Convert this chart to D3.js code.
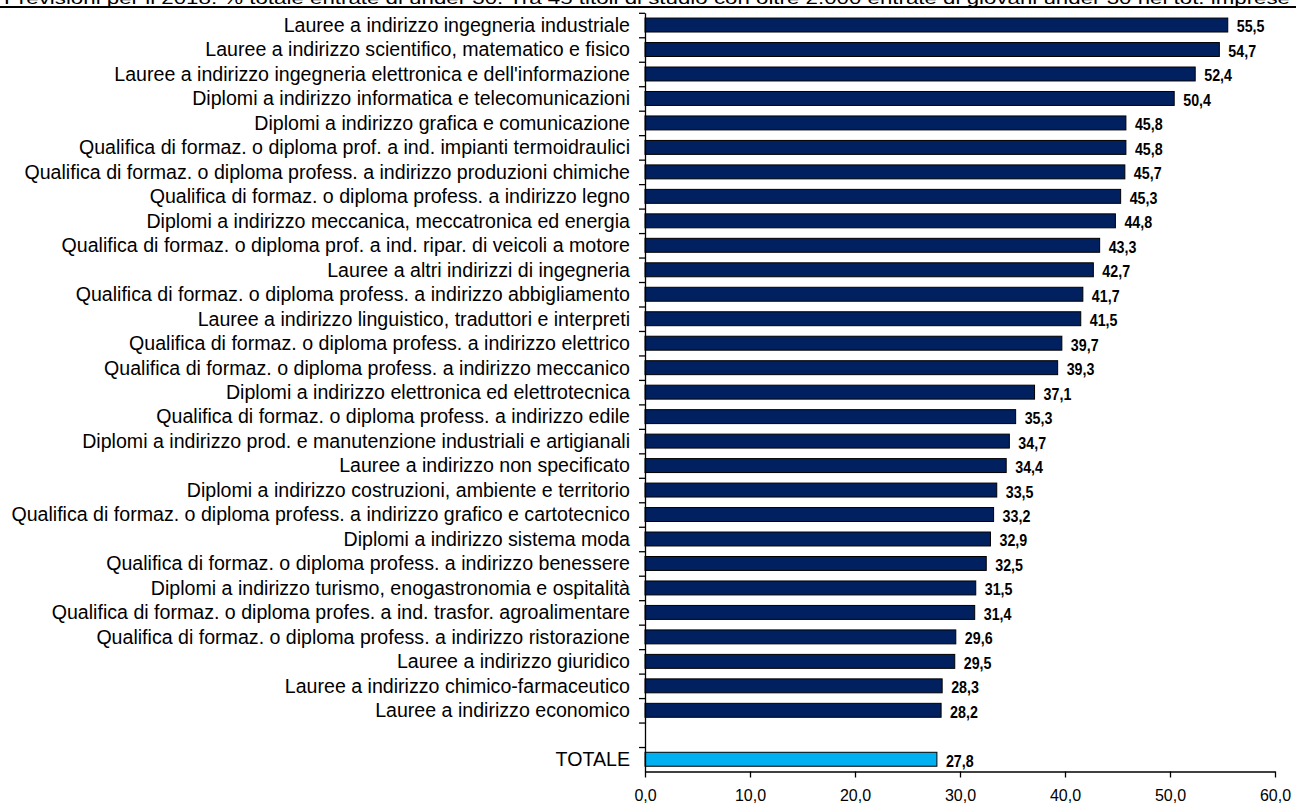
<!DOCTYPE html>
<html><head><meta charset="utf-8">
<script src="https://cdn.jsdelivr.net/npm/d3@7"></script>
<style>
body{margin:0;background:#fff;}
svg{display:block;font-family:"Liberation Sans Narrow","Arial Narrow","Liberation Sans",Arial,sans-serif;}
</style></head>
<body><svg id="c" width="1296" height="806"></svg>
<script>
const titleText = "Previsioni per il 2018: % totale entrate di under 30. Tra 45 titoli di studio con oltre 2.000 entrate di giovani under 30 nel tot. imprese";
const categories = [
"Lauree a indirizzo ingegneria industriale",
"Lauree a indirizzo scientifico, matematico e fisico",
"Lauree a indirizzo ingegneria elettronica e dell'informazione",
"Diplomi a indirizzo informatica e telecomunicazioni",
"Diplomi a indirizzo grafica e comunicazione",
"Qualifica di formaz. o diploma prof. a ind. impianti termoidraulici",
"Qualifica di formaz. o diploma profess. a indirizzo produzioni chimiche",
"Qualifica di formaz. o diploma profess. a indirizzo legno",
"Diplomi a indirizzo meccanica, meccatronica ed energia",
"Qualifica di formaz. o diploma prof. a ind. ripar. di veicoli a motore",
"Lauree a altri indirizzi di ingegneria",
"Qualifica di formaz. o diploma profess. a indirizzo abbigliamento",
"Lauree a indirizzo linguistico, traduttori e interpreti",
"Qualifica di formaz. o diploma profess. a indirizzo elettrico",
"Qualifica di formaz. o diploma profess. a indirizzo meccanico",
"Diplomi a indirizzo elettronica ed elettrotecnica",
"Qualifica di formaz. o diploma profess. a indirizzo edile",
"Diplomi a indirizzo prod. e manutenzione industriali e artigianali",
"Lauree a indirizzo non specificato",
"Diplomi a indirizzo costruzioni, ambiente e territorio",
"Qualifica di formaz. o diploma profess. a indirizzo grafico e cartotecnico",
"Diplomi a indirizzo sistema moda",
"Qualifica di formaz. o diploma profess. a indirizzo benessere",
"Diplomi a indirizzo turismo, enogastronomia e ospitalità",
"Qualifica di formaz. o diploma profes. a ind. trasfor. agroalimentare",
"Qualifica di formaz. o diploma profess. a indirizzo ristorazione",
"Lauree a indirizzo giuridico",
"Lauree a indirizzo chimico-farmaceutico",
"Lauree a indirizzo economico"
];
const values = [55.5,54.7,52.4,50.4,45.8,45.8,45.7,45.3,44.8,43.3,42.7,41.7,41.5,39.7,39.3,37.1,35.3,34.7,34.4,33.5,33.2,32.9,32.5,31.5,31.4,29.6,29.5,28.3,28.2];
const totalLabel = "TOTALE";
const totalValue = 27.8;
const xTicks = [0,10,20,30,40,50,60];

const rows = categories.map((c,i)=>({cat:c, val:values[i], total:false}));
rows.push({cat:"__gap__", val:null, total:false});
rows.push({cat:totalLabel, val:totalValue, total:true});

const svg = d3.select("#c");
const pLeft = 645, pRight = 1275, pTop = 12.8, pBottom = 771.5;

const x = d3.scaleLinear().domain([0,60]).range([pLeft,pRight]);
const y = d3.scaleBand().domain(rows.map(r=>r.cat)).range([pTop,pBottom]).paddingInner(0.43).paddingOuter(0.215);
const yIdx = d3.scaleLinear().domain([0,rows.length]).range([pTop,pBottom]);
const fmt = v => d3.format(".1f")(v).replace(".",",");

// title
svg.append("text").attr("x",4).attr("y",4).attr("font-size",17).attr("fill","#000")
  .attr("textLength",1286).attr("lengthAdjust","spacingAndGlyphs").text(titleText);
svg.append("line").attr("x1",0).attr("x2",1296).attr("y1",7).attr("y2",7).attr("stroke","#000").attr("stroke-width",2);

// bars
const dataRows = rows.filter(r=>r.val!==null);
svg.append("g").selectAll("rect").data(dataRows).join("rect")
  .attr("x",x(0)).attr("y",d=>y(d.cat)).attr("width",d=>x(d.val)-x(0)).attr("height",y.bandwidth())
  .attr("fill",d=>d.total?"#00B0F0":"#002060").attr("stroke","#000").attr("stroke-width",1);

// value labels (condensed bold)
svg.append("g").selectAll("text").data(dataRows).join("text")
  .attr("transform",d=>`translate(${x(d.val)+9},${y(d.cat)+y.bandwidth()/2+1.5}) scale(0.84,1)`)
  .attr("dy","0.35em")
  .attr("font-size",17).attr("font-weight","bold").attr("fill","#000").text(d=>fmt(d.val));

// category labels
svg.append("g").selectAll("text").data(dataRows).join("text")
  .attr("x",630).attr("y",d=>y(d.cat)+y.bandwidth()/2).attr("dy","0.35em").attr("text-anchor","end")
  .attr("font-size",19.6).attr("fill","#000").text(d=>d.cat);

// y axis with ticks at boundaries
const ya = svg.append("g").attr("transform",`translate(${pLeft},0)`)
  .call(d3.axisLeft(yIdx).tickValues(d3.range(0,rows.length)).tickFormat("").tickSize(6).tickSizeOuter(0));
ya.selectAll("path,line").attr("stroke","#000").attr("stroke-width",1.3);

// x axis
const xa = svg.append("g").attr("transform",`translate(0,${pBottom})`)
  .call(d3.axisBottom(x).tickValues(xTicks).tickFormat(fmt).tickSize(6).tickSizeOuter(0).tickPadding(12));
xa.selectAll("path,line").attr("stroke","#000").attr("stroke-width",1.3);
xa.selectAll("text").attr("font-size",16).attr("fill","#000").attr("font-family","inherit");
</script></body></html>
